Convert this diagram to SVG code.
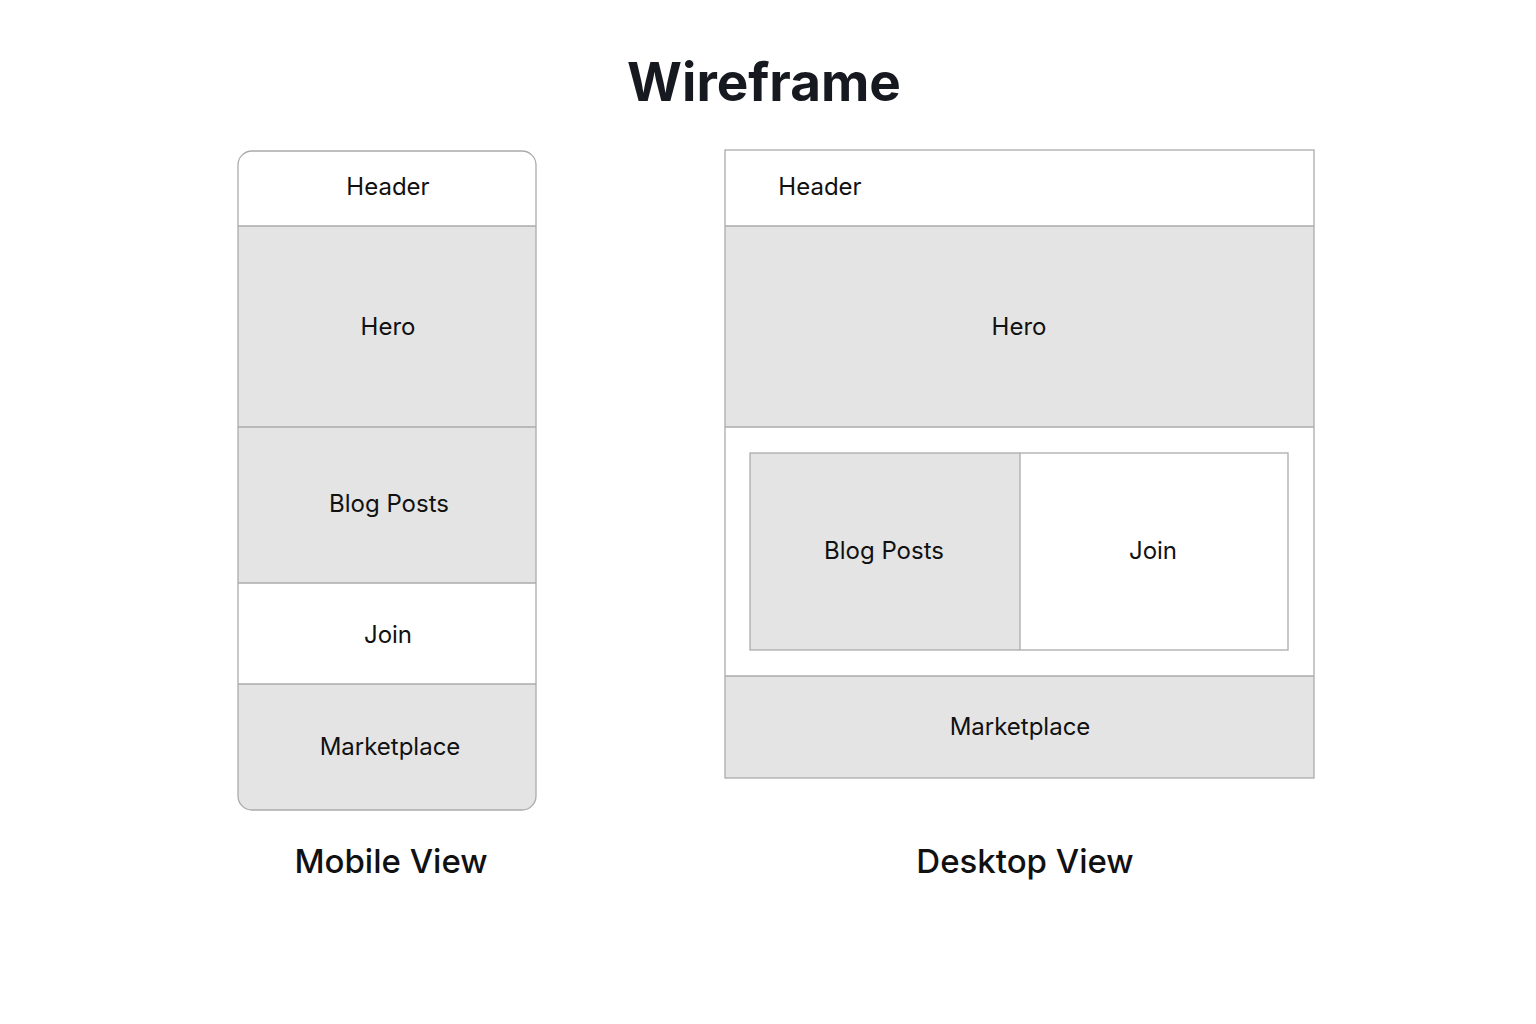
<svg xmlns="http://www.w3.org/2000/svg" width="1536" height="1024" viewBox="0 0 1536 1024">
  <defs>
    <style>
      .lbl { font-family: Inter, "Noto Sans", "Liberation Sans", sans-serif; font-size: 24px; fill: #111; text-anchor: middle; }
      .cap { font-family: Inter, "Noto Sans", "Liberation Sans", sans-serif; font-size: 33px; font-weight: 500; fill: #111; text-anchor: middle; }
      .title { font-family: Inter, "Noto Sans", "Liberation Sans", sans-serif; font-size: 53px; font-weight: 700; fill: #161a20; text-anchor: middle; }
      .gray { fill: #e4e4e4; }
      .white { fill: #ffffff; }
      .edge { fill: none; stroke: #ababab; stroke-width: 1.3; }
    </style>
    <clipPath id="mobileClip">
      <rect x="238" y="151" width="298" height="659" rx="14"/>
    </clipPath>
  </defs>

  <rect width="1536" height="1024" fill="#ffffff"/>

  <text class="title" x="764" y="101">Wireframe</text>

  <!-- Mobile layout -->
  <g id="mobile-view">
    <g clip-path="url(#mobileClip)">
      <g id="m-header"><rect class="white" x="238" y="151" width="298" height="75"/><text class="lbl" x="388" y="195">Header</text></g>
      <g id="m-hero"><rect class="gray" x="238" y="226" width="298" height="201"/><text class="lbl" x="388" y="335">Hero</text></g>
      <g id="m-blog"><rect class="gray" x="238" y="427" width="298" height="156"/><text class="lbl" x="389" y="512">Blog Posts</text></g>
      <g id="m-join"><rect class="white" x="238" y="583" width="298" height="101"/><text class="lbl" x="388" y="643">Join</text></g>
      <g id="m-market"><rect class="gray" x="238" y="684" width="298" height="126"/><text class="lbl" x="390" y="755">Marketplace</text></g>
    </g>
    <g class="edge">
      <line x1="238" y1="226" x2="536" y2="226"/>
      <line x1="238" y1="427" x2="536" y2="427"/>
      <line x1="238" y1="583" x2="536" y2="583"/>
      <line x1="238" y1="684" x2="536" y2="684"/>
      <rect x="238" y="151" width="298" height="659" rx="14"/>
    </g>
    <text class="cap" x="391" y="873">Mobile View</text>
  </g>

  <!-- Desktop layout -->
  <g id="desktop-view">
    <g id="d-header"><rect class="white" x="725" y="150" width="589" height="76"/><text class="lbl" x="820" y="195">Header</text></g>
    <g id="d-hero"><rect class="gray" x="725" y="226" width="589" height="201"/><text class="lbl" x="1019" y="335">Hero</text></g>
    <g id="d-content"><rect class="white" x="725" y="427" width="589" height="249"/></g>
    <g id="d-blog"><rect class="gray" x="750" y="453" width="270" height="197"/><text class="lbl" x="884" y="559">Blog Posts</text></g>
    <g id="d-join"><rect class="white" x="1020" y="453" width="268" height="197"/><text class="lbl" x="1153" y="559">Join</text></g>
    <g id="d-market"><rect class="gray" x="725" y="676" width="589" height="102"/><text class="lbl" x="1020" y="735">Marketplace</text></g>
    <g class="edge">
      <line x1="725" y1="226" x2="1314" y2="226"/>
      <line x1="725" y1="427" x2="1314" y2="427"/>
      <line x1="725" y1="676" x2="1314" y2="676"/>
      <rect x="750" y="453" width="538" height="197"/>
      <line x1="1020" y1="453" x2="1020" y2="650"/>
      <rect x="725" y="150" width="589" height="628"/>
    </g>
    <text class="cap" x="1025" y="873">Desktop View</text>
  </g>
</svg>
